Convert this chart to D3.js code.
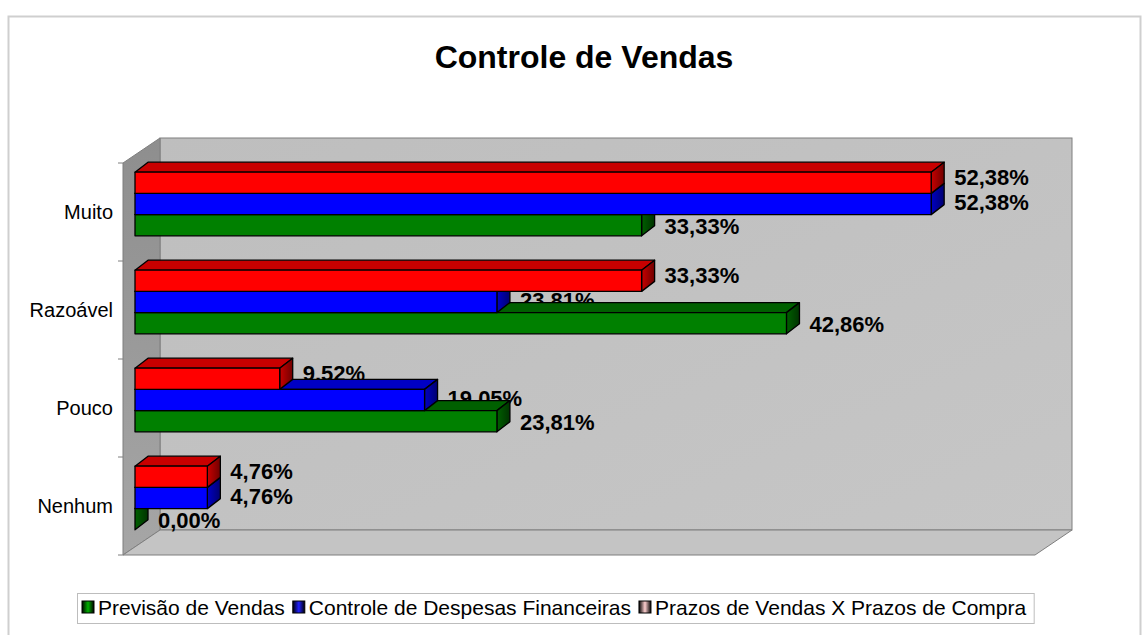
<!DOCTYPE html>
<html><head><meta charset="utf-8">
<script src="https://cdn.jsdelivr.net/npm/d3@7"></script>
<style>
body{margin:0;background:#fff}
svg{display:block}
text{font-family:"Liberation Sans",Arial,sans-serif;fill:#000}
</style>
</head><body>
<svg id="chart" width="1144" height="635"></svg>
<script>
// ---- data ----
const categories = ["Muito", "Razoável", "Pouco", "Nenhum"];
const seriesNames = ["Previsão de Vendas", "Controle de Despesas Financeiras", "Prazos de Vendas X Prazos de Compra"];
const previsaoVendas     = [33.33, 42.86, 23.81, 0.00];
const controleDespesas   = [52.38, 23.81, 19.05, 4.76];
const prazosVendasCompra = [52.38, 33.33, 9.52, 4.76];
const valueDomain = [0, 60];
const title = "Controle de Vendas";

const seriesValues = [previsaoVendas, controleDespesas, prazosVendasCompra];
const palette = [
  {front:"#008000", top:"#006000", side:"#003300", key:"#00b000"},
  {front:"#0000ff", top:"#0000c4", side:"#000070", key:"#2020ff"},
  {front:"#ff0000", top:"#c80000", side:"#700000", key:"#ffd0d0"}
];

const svg = d3.select("#chart");
const defs = svg.append("defs");

// chart area border
svg.append("rect").attr("x", 8.5).attr("y", 16.5).attr("width", 1132).attr("height", 640)
  .attr("fill", "#fff").attr("stroke", "#cfcfcf").attr("stroke-width", 2);

// title
svg.append("text").attr("x", 584).attr("y", 68).attr("text-anchor", "middle")
  .style("font-size", "32px").style("font-weight", "bold").text(title);

// 3D geometry
const front = {x0:123, x1:1035, yTop:163, yBot:555};
const DX = 37, DY = 25;            // wall depth offset
const zOffX = 12, zOffY = 8;       // bar position inside depth
const bdx = 13, bdy = 10;          // bar depth

const x = d3.scaleLinear().domain(valueDomain).range([front.x0, front.x1]);
const y = d3.scaleBand().domain(categories).range([front.yTop, front.yBot])
  .paddingInner(0.35).paddingOuter(0.175);
const sub = d3.scaleBand().domain([2, 1, 0]).range([0, y.bandwidth()]);

// gradients
const gSide = defs.append("linearGradient").attr("id", "sideWall").attr("x1", 0).attr("y1", 0).attr("x2", 0).attr("y2", 1);
gSide.append("stop").attr("offset", 0).attr("stop-color", "#8e8e8e");
gSide.append("stop").attr("offset", 1).attr("stop-color", "#a6a6a6");
const gBack = defs.append("linearGradient").attr("id", "backWall").attr("x1", 0).attr("y1", 0).attr("x2", 1).attr("y2", 1);
gBack.append("stop").attr("offset", 0).attr("stop-color", "#bebebe");
gBack.append("stop").attr("offset", 1).attr("stop-color", "#c6c6c6");
palette.forEach((p, i) => {
  const g = defs.append("linearGradient").attr("id", "cap" + i).attr("x1", 0).attr("y1", 0).attr("x2", 1).attr("y2", 0);
  g.append("stop").attr("offset", 0).attr("stop-color", p.top);
  g.append("stop").attr("offset", 1).attr("stop-color", p.side);
  const k = defs.append("linearGradient").attr("id", "key" + i).attr("x1", 0).attr("y1", 0).attr("x2", 1).attr("y2", 0);
  k.append("stop").attr("offset", 0).attr("stop-color", "#000");
  k.append("stop").attr("offset", 0.5).attr("stop-color", p.key);
  k.append("stop").attr("offset", 1).attr("stop-color", "#000");
});

// walls
const wall = svg.append("g").attr("stroke", "#7f7f7f").attr("stroke-width", 1);
wall.append("rect").attr("x", front.x0 + DX).attr("y", front.yTop - DY)
  .attr("width", front.x1 - front.x0).attr("height", front.yBot - front.yTop)
  .attr("fill", "url(#backWall)");
wall.append("polygon").attr("points", [
  [front.x0, front.yTop], [front.x0 + DX, front.yTop - DY],
  [front.x0 + DX, front.yBot - DY], [front.x0, front.yBot]].join(" "))
  .attr("fill", "url(#sideWall)");
wall.append("polygon").attr("points", [
  [front.x0, front.yBot], [front.x0 + DX, front.yBot - DY],
  [front.x1 + DX, front.yBot - DY], [front.x1, front.yBot]].join(" "))
  .attr("fill", "#c4c4c4");

// category axis
const axisG = svg.append("g").attr("transform", `translate(${front.x0},0)`);
const tickPos = categories.map(c => y(c) - y.step() * y.paddingInner() / 2).concat([front.yBot]);
axisG.selectAll("line.tick").data(tickPos).join("line").attr("class", "tick")
  .attr("x1", -5).attr("x2", 0).attr("y1", d => d).attr("y2", d => d)
  .attr("stroke", "#7f7f7f");
axisG.selectAll("text").data(categories).join("text")
  .attr("x", -10).attr("y", d => y(d) + y.bandwidth() / 2).attr("dy", "0.35em")
  .attr("text-anchor", "end").style("font-size", "20px").text(d => d);

// bars data
const bars = [];
categories.forEach((c, ci) => {
  seriesValues.forEach((vals, si) => {
    const v = vals[ci];
    const yTop = y(c) - zOffY + sub(si);
    bars.push({c, si, v, yTop, h: sub.bandwidth(), xs: x(0) + zOffX, xe: x(v) + zOffX});
  });
});

const fmt = v => v.toFixed(2).replace(".", ",") + "%";
const labelOff = [1, -2, -6];

// labels (drawn first, bars can occlude them as in the original)
svg.append("g").selectAll("text").data(bars).join("text")
  .attr("x", d => d.xe + bdx + 10)
  .attr("y", d => d.yTop + d.h / 2 + labelOff[d.si])
  .attr("dy", "0.36em")
  .style("font-size", "22px").style("font-weight", "bold")
  .text(d => fmt(d.v));

// bars, bottom series first
const barG = svg.append("g").attr("stroke", "#000").attr("stroke-width", 1.3).attr("stroke-linejoin", "round");
const order = bars.slice().sort((a, b) => (categories.indexOf(a.c) - categories.indexOf(b.c)) || (a.si - b.si));
order.forEach(d => {
  const p = palette[d.si];
  const g = barG.append("g");
  g.append("polygon").attr("points", [
    [d.xs, d.yTop], [d.xs + bdx, d.yTop - bdy], [d.xe + bdx, d.yTop - bdy], [d.xe, d.yTop]].join(" "))
    .attr("fill", p.top);
  g.append("polygon").attr("points", [
    [d.xe, d.yTop], [d.xe + bdx, d.yTop - bdy], [d.xe + bdx, d.yTop + d.h - bdy], [d.xe, d.yTop + d.h]].join(" "))
    .attr("fill", `url(#cap${d.si})`);
  g.append("rect").attr("x", d.xs).attr("y", d.yTop).attr("width", Math.max(0, d.xe - d.xs)).attr("height", d.h)
    .attr("fill", p.front);
});

// legend
const leg = svg.append("g");
const legBox = leg.append("rect").attr("x", 77.5).attr("y", 593.5).attr("height", 30)
  .attr("fill", "#fff").attr("stroke", "#bdbdbd").attr("stroke-width", 1);
let lx = 82;
seriesNames.forEach((name, i) => {
  leg.append("rect").attr("x", lx).attr("y", 601).attr("width", 12).attr("height", 12)
    .attr("fill", `url(#key${i})`).attr("stroke", "#000").attr("stroke-width", 1);
  const t = leg.append("text").attr("x", lx + 16).attr("y", 615).style("font-size", "21px").text(name);
  lx += 16 + t.node().getComputedTextLength() + 8;
});
legBox.attr("width", lx - 77.5);
</script>
</body></html>
